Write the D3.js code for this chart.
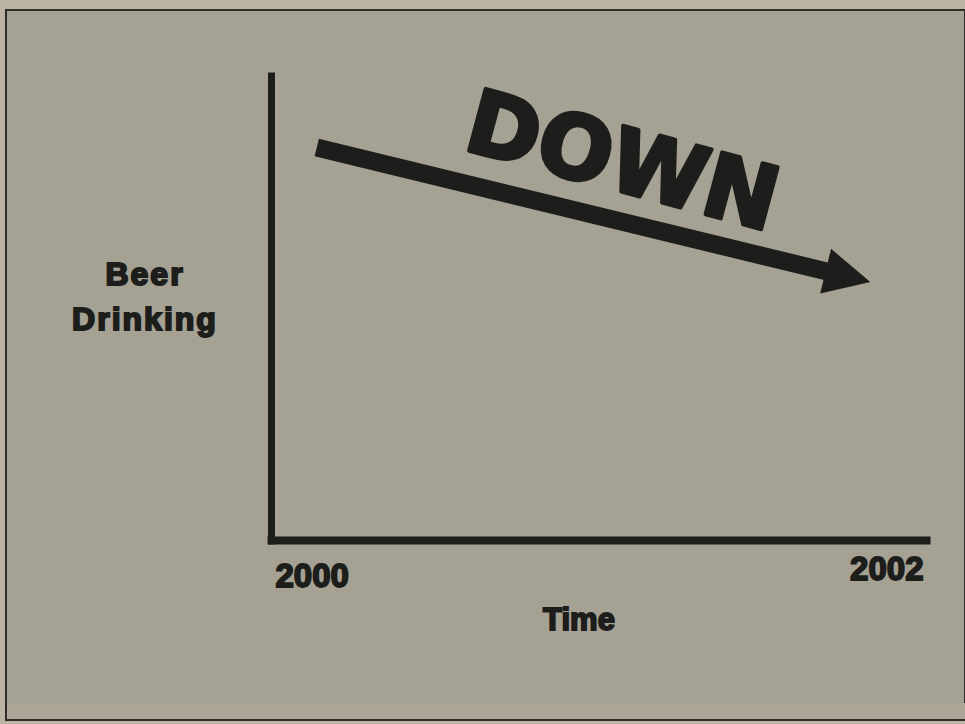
<!DOCTYPE html>
<html>
<head>
<meta charset="utf-8">
<script src="https://cdn.jsdelivr.net/npm/d3@7"></script>
<style>
  body { margin: 0; background: #bbb4a2; }
  svg { display: block; }
</style>
</head>
<body>
<div id="chart"></div>
<script>
// chart data

var years = [2000, 2002];
var trendYears = [2000.15, 2001.82];
var trendValues = [84, 55.5];
var yLabel = ["Beer", "Drinking"];
var xLabel = "Time";
var headline = "DOWN";

var w = 965,
    h = 724,
    ink = "#1d1d1b",
    svg = d3.select("#chart")
            .append("svg")
            .attr("width", w)
            .attr("height", h);

// paper panel with its dark frame
svg.append("rect")
    .attr("x", 6).attr("y", 10)
    .attr("width", w - 6).attr("height", 710)
    .attr("fill", "#a5a294")
    .attr("stroke", "#2e2d29")
    .attr("stroke-width", 2);

svg.append("rect")
    .attr("x", 7).attr("y", 703)
    .attr("width", w - 7).attr("height", 16)
    .attr("fill", "#aba695");

// scales
var x = d3.scaleLinear()
    .domain([2000, 2002])
    .range([267, 930]);

var y = d3.scaleLinear()
    .domain([0, 100])
    .range([544, 72]);

// y axis: only the thick line
var gy = svg.append("g")
    .attr("transform", "translate(271,0)")
    .call(d3.axisLeft(y).tickValues([]).tickSizeOuter(0));
gy.select(".domain")
    .attr("stroke", ink)
    .attr("stroke-width", 7);

// x axis with the two year labels
var gx = svg.append("g")
    .attr("transform", "translate(0,540)")
    .call(d3.axisBottom(x).tickValues(years).tickSize(0).tickFormat(d3.format("d")));
gx.select(".domain")
    .attr("stroke", ink)
    .attr("stroke-width", 8);
gx.selectAll(".tick text")
    .attr("font-family", "Liberation Sans, Arial, sans-serif")
    .attr("font-weight", "bold")
    .attr("font-size", "33px")
    .attr("fill", ink)
    .attr("stroke", ink)
    .attr("stroke-width", 1.8)
    .attr("dy", null)
    .attr("y", function(d, i) { return i === 0 ? 47 : 40; })
    .attr("dx", function(d, i) { return i === 0 ? 8 : -7; })
    .attr("text-anchor", function(d, i) { return i === 0 ? "start" : "end"; });

// the trend arrow
var p0 = [x(trendYears[0]), y(trendValues[0])],
    p1 = [x(trendYears[1]), y(trendValues[1])],
    ang = Math.atan2(p1[1] - p0[1], p1[0] - p0[0]),
    headLen = 46,
    headHalf = 23,
    ux = Math.cos(ang), uy = Math.sin(ang),
    base = [p1[0] - ux * headLen, p1[1] - uy * headLen];

svg.append("line")
    .attr("x1", p0[0]).attr("y1", p0[1])
    .attr("x2", base[0] + ux * 4).attr("y2", base[1] + uy * 4)
    .attr("stroke", ink)
    .attr("stroke-width", 18);

svg.append("path")
    .attr("d", d3.line()([
        p1,
        [base[0] - uy * headHalf, base[1] + ux * headHalf],
        [base[0] + uy * headHalf, base[1] - ux * headHalf]
    ]) + "Z")
    .attr("fill", ink);

// big slanted headline
svg.append("text")
    .attr("transform", "translate(615,190) rotate(15)")
    .attr("text-anchor", "middle")
    .attr("font-family", "DejaVu Sans, sans-serif")
    .attr("font-weight", "bold")
    .attr("font-size", "88px")
    .attr("fill", ink)
    .attr("stroke", ink)
    .attr("stroke-width", 4)
    .attr("stroke-linejoin", "round")
    .text(headline);

// axis titles
svg.selectAll(".ylab")
    .data(yLabel)
    .enter().append("text")
    .attr("class", "ylab")
    .attr("x", 145)
    .attr("y", function(d, i) { return 285 + i * 45; })
    .attr("text-anchor", "middle")
    .attr("font-family", "Liberation Sans, Arial, sans-serif")
    .attr("font-weight", "bold")
    .attr("font-size", "32px")
    .attr("letter-spacing", "2px")
    .attr("fill", ink)
    .attr("stroke", ink)
    .attr("stroke-width", 2)
    .text(function(d) { return d; });

svg.append("text")
    .attr("x", 579)
    .attr("y", 630)
    .attr("text-anchor", "middle")
    .attr("font-family", "Liberation Sans, Arial, sans-serif")
    .attr("font-weight", "bold")
    .attr("font-size", "31px")
    .attr("fill", ink)
    .attr("stroke", ink)
    .attr("stroke-width", 1.8)
    .text(xLabel);
</script>
</body>
</html>
